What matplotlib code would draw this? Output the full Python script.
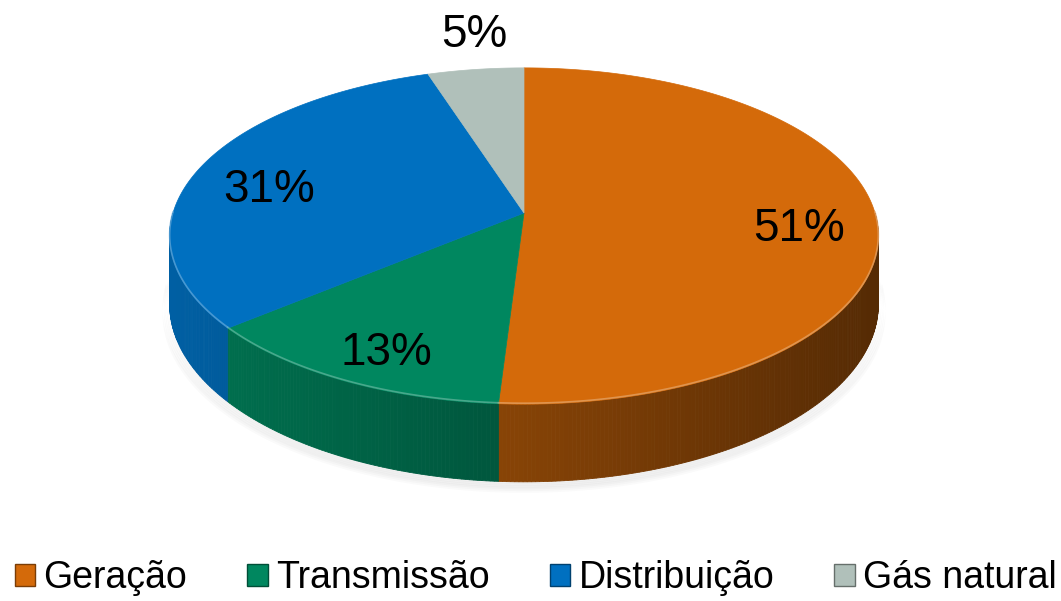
import numpy as np
import matplotlib.pyplot as plt
from matplotlib.patches import Polygon, Patch
from matplotlib.colors import to_rgb

plt.rcParams['font.family'] = ['Liberation Sans', 'DejaVu Sans']

labels = ['Geração', 'Transmissão', 'Distribuição', 'Gás natural']
values = [51, 13, 31, 5]
colors = ['#D46A0A', '#00875F', '#0070C0', '#B0C0BA']

# geometria do "pie 3D" (em pixels)
cx, cy = 524, 213
R, Ry = 351, 165
p = 0.137      # perspectiva
D = 67         # espessura


def proj(theta, r=1.0, drop=0.0):
    u = r * np.sin(theta)
    v = r * np.cos(theta)
    w = 1 + p * v
    return cx + R * u / w, cy - Ry * v / w + drop / w


def shade(c, x):
    f = 0.85 - 0.45 * (x - 170) / 710
    return tuple(np.clip(np.array(to_rgb(c)) * f, 0, 1))


fig = plt.figure(figsize=(10.61, 6.01), dpi=100)
ax = fig.add_axes([0, 0, 1, 1])
ax.set_xlim(0, 1061)
ax.set_ylim(601, 0)
ax.axis('off')

frac = np.array(values) / sum(values)
edges = np.concatenate([[0], np.cumsum(frac)]) * 2 * np.pi

# sombra suave
th = np.linspace(np.pi / 2, 3 * np.pi / 2, 100)
for k in range(6):
    xs, ys = proj(th, drop=D + 2 + k * 1.5)
    xs = cx + (xs - cx) * (1 + 0.004 * k)
    ax.fill(np.r_[xs, xs[::-1]], np.r_[ys, ys[::-1] - 6], color='grey', alpha=0.04, lw=0)

# laterais (so a parte da frente)
for i, c in enumerate(colors):
    a0 = max(edges[i], np.pi / 2)
    a1 = min(edges[i + 1], 3 * np.pi / 2)
    if a1 <= a0:
        continue
    t = np.linspace(a0, a1, max(int((a1 - a0) / 0.01), 2))
    for j in range(len(t) - 1):
        x0, y0 = proj(t[j])
        x1, y1 = proj(t[j + 1])
        x0b, y0b = proj(t[j], drop=D)
        x1b, y1b = proj(t[j + 1], drop=D)
        ax.add_patch(Polygon([(x0, y0), (x1, y1), (x1b, y1b), (x0b, y0b)],
                             closed=True, facecolor=shade(c, (x0 + x1) / 2),
                             edgecolor=shade(c, (x0 + x1) / 2), lw=0.6))

# topo
for i, c in enumerate(colors):
    t = np.linspace(edges[i], edges[i + 1], 200)
    xs, ys = proj(t)
    ax.add_patch(Polygon(np.c_[np.r_[cx, xs], np.r_[cy, ys]], closed=True,
                         facecolor=c, edgecolor=c, lw=0.5))
    # brilho na borda da frente
    a0 = max(edges[i], np.pi / 2)
    a1 = min(edges[i + 1], 3 * np.pi / 2)
    if a1 > a0:
        tt = np.linspace(a0, a1, 100)
        hx, hy = proj(tt)
        light = tuple(np.array(to_rgb(c)) * 0.6 + 0.4)
        ax.plot(hx, hy - 1, color=light, lw=1.2, alpha=0.7)

# rotulos
for i, v in enumerate(values):
    mid = (edges[i] + edges[i + 1]) / 2
    if v >= 10:
        x, y = proj(mid, r=0.78, drop=12)
    else:
        x, y = proj(mid, r=1.28)
        x += 10
    ax.text(x, y, f'{v}%', fontsize=33, ha='center', va='center', color='black')

handles = [Patch(facecolor=c, edgecolor=shade(c, 600)) for c in colors]
fig.legend(handles, labels, loc='lower center', bbox_to_anchor=(0.505, 0.008), ncol=4,
           frameon=False, fontsize=27, handlelength=0.55, handleheight=0.55,
           handletextpad=0.22, columnspacing=1.6, borderaxespad=0, borderpad=0)

fig.savefig('out.png', dpi=100)
